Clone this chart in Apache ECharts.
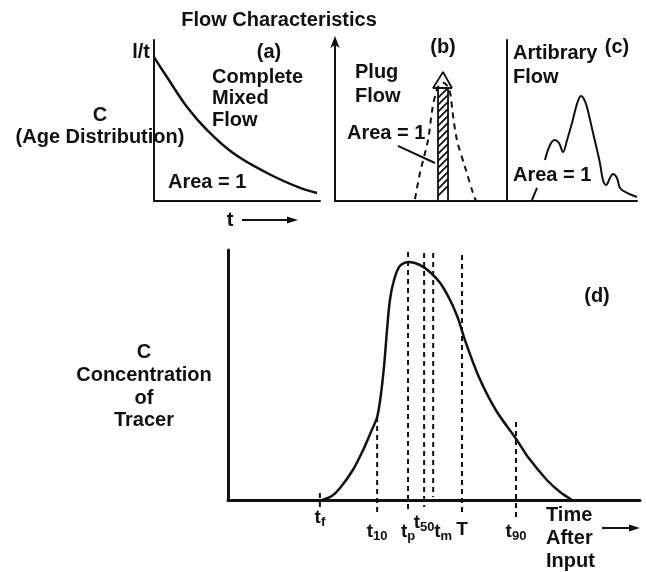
<!DOCTYPE html>
<html>
<head>
<meta charset="utf-8">
<script src="https://cdn.jsdelivr.net/npm/echarts/dist/echarts.min.js"></script>
<style>
html,body{margin:0;padding:0;background:#fff}
#chart{width:646px;height:572px}
</style>
</head>
<body>
<div id="chart"></div>
<script>
// (a) complete mixed flow: age distribution decaying from 1/t
const mixedFlow = [[0,89.4],[7.8,77],[19.9,58.4],[31.9,44.1],[47.6,29.8],[68.1,17.4],[88,8.1],[98.2,5]];

// (b) plug flow: unit-area spike plus a dispersed (dashed) pulse
const plugSpike = [[62.8,70.2]];
const plugArrowHead = [[59.9,70.2],[57,70.2],[62.8,80.1],[68,70.2],[65.7,70.2]];
const plugDispersed = [[46.5,1.2],[49.4,17.4],[54.1,37.9],[56.5,56.5],[58.2,65.2],[60,71],[62.8,73.5],
  [65.6,71],[67.3,65.2],[68.2,56.5],[70.9,37.9],[75.6,21.1],[80.2,5],[82,0]];
const plugPointer = [[36.6,34.2],[58.1,23.6]];

// (c) arbitrary flow
const arbitraryFlow = [[29.2,25.5],[33.1,34.8],[36.9,37.9],[40,36],[43.1,30.4],[46.2,37.9],[50,48.4],
  [53.8,60.2],[56.9,65.2],[59.2,63.4],[61.5,58.4],[66.2,42.2],[71.5,23.6],[73.8,13],[76.2,9.9],
  [79.2,14.3],[81.5,16.8],[84.6,14.3],[86.9,8.1],[92.3,5],[100,2.5]];
const arbitraryPointer = [[23.1,8.1],[19.2,0.6]];

// (d) tracer concentration after input
const tracerCurve = [[22.8,0],[25.2,1.6],[27.2,4.8],[30.3,12],[32.8,20],[34.7,27.2],[36.2,33.2],
  [37.1,42],[37.9,54],[38.6,68],[39.3,80],[40.3,88],[41.7,93.6],[43.9,95.2],[46.6,94],[49,91.2],
  [51.5,86.8],[53.9,80],[55.8,72.8],[57.5,64],[60.9,49.2],[65,36],[70.1,24],[72.8,17.2],
  [77.4,8],[80.6,3.2],[83.5,0]];

// characteristic times on the tracer curve
const markerBase = ['t','t','t','t','t','T','t'];
const markerSub  = ['f','10','p','50','m','','90'];
const markerTimes   = [22.3,36.2,43.7,47.6,49.8,56.8,69.9];
const markerTops    = [2.8,33.2,99.2,98.8,98.8,98,31.2];
const markerBottoms = [-2.8,-5.2,-5.2,-2.8,1.2,-5.2,-6.8];
const markerLabelLevel = [-7.2,-12.8,-12.8,-9.2,-12.8,-12,-12.8];

const FONT = '"Liberation Sans", Arial, Helvetica, sans-serif';
const BLACK = '#111';

function txt(x, y, text, align, size, lh) {
  return {
    type: 'text', x: x, y: y, z: 10,
    style: {
      text: text, fill: BLACK,
      font: 'bold ' + (size || 20) + 'px ' + FONT,
      align: align || 'center', textAlign: align || 'center',
      verticalAlign: 'middle', textVerticalAlign: 'middle',
      lineHeight: lh || 22
    }
  };
}
function arrow(x1, x2, y) {
  return [
    { type: 'line', shape: { x1: x1, y1: y, x2: x2 - 8, y2: y }, style: { stroke: BLACK, lineWidth: 2 } },
    { type: 'polygon', shape: { points: [[x2, y], [x2 - 11, y - 3.5], [x2 - 11, y + 3.5]] }, style: { fill: BLACK } }
  ];
}

const grids = [
  { left: 154, top: 40, width: 166, height: 161 },   // a
  { left: 335, top: 40, width: 172, height: 161 },   // b
  { left: 507, top: 40, width: 130, height: 161 },   // c
  { left: 228, top: 250, width: 412, height: 250 }   // d
];
const axisW = [2, 2, 2, 3];
const xAxes = grids.map((g, i) => ({
  type: 'value', gridIndex: i, min: 0, max: 100,
  axisLine: { show: true, onZero: false, lineStyle: { color: BLACK, width: axisW[i] } },
  axisTick: { show: false }, axisLabel: { show: false }, splitLine: { show: false }
}));
const yAxes = grids.map((g, i) => ({
  type: 'value', gridIndex: i, min: 0, max: 100,
  axisLine: {
    show: true, onZero: false,
    lineStyle: { color: BLACK, width: axisW[i] },
    symbol: i === 1 ? ['none', 'arrow'] : 'none', symbolSize: [7, 12], symbolOffset: [0, 4]
  },
  axisTick: { show: false }, axisLabel: { show: false }, splitLine: { show: false }
}));

function lineSeries(idx, data, opts) {
  return Object.assign({
    type: 'line', xAxisIndex: idx, yAxisIndex: idx, data: data,
    showSymbol: false, symbol: 'none', smooth: false, clip: false, silent: true,
    lineStyle: { color: BLACK, width: 2.5 }
  }, opts || {});
}

const series = [
  lineSeries(0, mixedFlow, { smooth: 0.4 }),
  lineSeries(1, plugDispersed, { smooth: 0.3, lineStyle: { color: BLACK, width: 2, type: [6, 5] } }),
  {
    type: 'custom', xAxisIndex: 1, yAxisIndex: 1, data: plugSpike, clip: false, z: 3,
    renderItem: function (params, api) {
      const top = api.coord([api.value(0), api.value(1)]);
      const bot = api.coord([api.value(0), 0]);
      const w = 10, x0 = top[0] - w / 2, x1 = top[0] + w / 2;
      const children = [{
        type: 'rect', shape: { x: x0, y: top[1], width: w, height: bot[1] - top[1] },
        style: { fill: '#fff', stroke: BLACK, lineWidth: 1.8 }
      }];
      for (let y = top[1] + w; y <= bot[1]; y += 7) {
        children.push({ type: 'line', shape: { x1: x0, y1: y, x2: x1, y2: y - w },
          style: { stroke: BLACK, lineWidth: 1.8 } });
      }
      return { type: 'group', children: children };
    }
  },
  lineSeries(1, plugArrowHead, { lineStyle: { color: BLACK, width: 1.8 }, z: 4 }),
  lineSeries(1, plugPointer, { lineStyle: { color: BLACK, width: 2 } }),
  lineSeries(2, arbitraryFlow, { smooth: 0.35, lineStyle: { color: BLACK, width: 2 } }),
  lineSeries(2, arbitraryPointer, { lineStyle: { color: BLACK, width: 2 } }),
  lineSeries(3, tracerCurve, { smooth: 0.3, z: 5 })
];

markerTimes.forEach((t, i) => {
  series.push(lineSeries(3, [[t, markerTops[i]], [t, markerBottoms[i]]],
    { lineStyle: { color: BLACK, width: 2, type: [5, 4] } }));
});

const labelShift = { 4: [10, 0] };
series.push({
  type: 'scatter', xAxisIndex: 3, yAxisIndex: 3, clip: false, silent: true,
  symbolSize: 0,
  itemStyle: { opacity: 1 },
  data: markerTimes.map((t, i) => ({
    value: [t, markerLabelLevel[i]],
    label: { offset: labelShift[i] || [0, 0] }
  })),
  label: {
    show: true, position: [0, 0], align: 'center', verticalAlign: 'middle',
    color: BLACK, opacity: 1, textBorderWidth: 0,
    formatter: function (p) {
      const i = p.dataIndex;
      return '{t|' + markerBase[i] + '}' + (markerSub[i] ? '{s|' + markerSub[i] + '}' : '');
    },
    rich: {
      t: { fontFamily: FONT, fontWeight: 'bold', fontSize: 19, lineHeight: 22, color: BLACK, textBorderWidth: 0 },
      s: { fontFamily: FONT, fontWeight: 'bold', fontSize: 13, lineHeight: 10, verticalAlign: 'bottom', color: BLACK, textBorderWidth: 0 }
    }
  }
});

const graphic = [
  txt(279, 20, 'Flow Characteristics'),
  // (a)
  txt(150, 52, 'l/t', 'right'),
  txt(269, 52, '(a)'),
  txt(212, 77, 'Complete', 'left'),
  txt(212, 98.5, 'Mixed', 'left'),
  txt(212, 120, 'Flow', 'left'),
  txt(100, 115, 'C'),
  txt(100, 137, '(Age Distribution)'),
  txt(168, 182, 'Area = 1', 'left'),
  txt(230, 220, 't'),
  ...arrow(242, 298, 220),
  // (b)
  txt(443, 47, '(b)'),
  txt(355, 72, 'Plug', 'left'),
  txt(355, 96, 'Flow', 'left'),
  txt(347, 133, 'Area = 1', 'left'),
  // (c)
  txt(513, 53, 'Artibrary', 'left'),
  txt(513, 77, 'Flow', 'left'),
  txt(617, 47, '(c)'),
  txt(513, 175, 'Area = 1', 'left'),
  // (d)
  txt(597, 296, '(d)'),
  txt(144, 352, 'C'),
  txt(144, 375, 'Concentration'),
  txt(144, 398, 'of'),
  txt(144, 420, 'Tracer'),
  txt(546, 515, 'Time', 'left'),
  txt(546, 538, 'After', 'left'),
  txt(546, 561, 'Input', 'left'),
  ...arrow(602, 640, 528)
];

const chart = echarts.init(document.getElementById('chart'), null, { renderer: 'canvas' });
chart.setOption({
  animation: false,
  backgroundColor: '#fff',
  grid: grids,
  xAxis: xAxes,
  yAxis: yAxes,
  series: series,
  graphic: graphic
});
</script>
</body>
</html>
